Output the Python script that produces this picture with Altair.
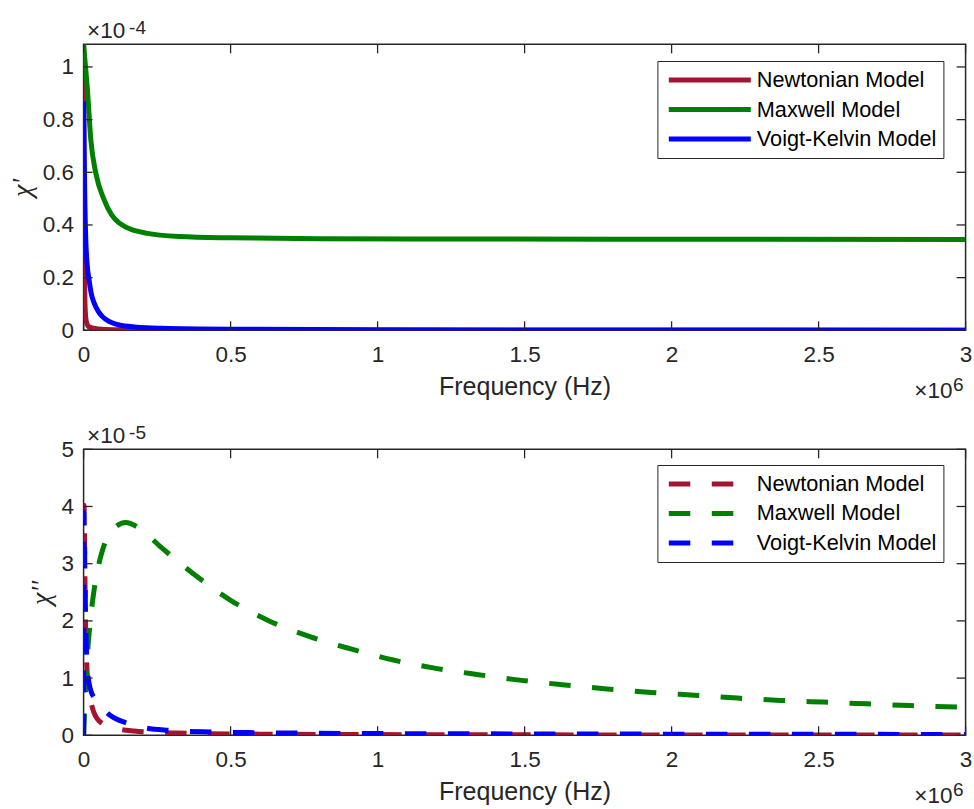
import altair as alt
import pandas as pd

# ---------------- data ----------------
SERIES = ["Newtonian Model", "Maxwell Model", "Voigt-Kelvin Model"]
COLORS = ["#A2142F", "#008000", "#0000FF"]

# chi' (units of 1e-4)
newton_re_f = [0, 1000, 2000, 3000, 4500, 6500, 10000, 20000, 50000, 100000, 300000, 3000000]
newton_re_v = [1.086, 0.77, 0.40, 0.23, 0.11, 0.06, 0.03, 0.012, 0.005, 0.002, 0.0005, 0.0]

maxwell_re_f = [0, 5000, 13000, 24500, 41500, 70000, 121000, 212000, 325000, 500000, 800000, 1200000, 2000000, 3000000]
maxwell_re_v = [1.086, 1.02, 0.914, 0.724, 0.597, 0.495, 0.407, 0.369, 0.356, 0.351, 0.348, 0.347, 0.346, 0.345]

voigt_re_f = [0, 2000, 4500, 7500, 12000, 18700, 26000, 36000, 50000, 64000, 90000, 120000, 180000, 268000, 500000, 1000000, 2000000, 3000000]
voigt_re_v = [0.869, 0.66, 0.47, 0.343, 0.25, 0.191, 0.14, 0.103, 0.072, 0.052, 0.032, 0.02, 0.012, 0.0076, 0.004, 0.002, 0.001, 0.0006]

# chi'' (units of 1e-5)
newton_im_f = [0, 1500, 4000, 7000, 11000, 18000, 30000, 53000, 100000, 172000, 318000, 600000, 1200000, 2000000, 3000000]
newton_im_v = [0, 4.02, 3.0, 1.8, 1.2, 0.8, 0.48, 0.25, 0.13, 0.075, 0.04, 0.02, 0.01, 0.006, 0.004]

maxwell_im_f = [0, 5000, 13000, 20000, 36000, 50000, 64000, 100000, 143000, 190000, 263000, 382000, 500000, 631000,
                767000, 909000, 1050000, 1198000, 1343000, 1490000, 1637000, 1780000, 1930000, 2077000, 2224000,
                2370000, 2516000, 2664000, 2810000, 3000000]
maxwell_im_v = [0, 0.6, 1.4, 1.85, 2.55, 2.95, 3.23, 3.6, 3.72, 3.62, 3.29, 2.79, 2.36, 2.0,
                1.73, 1.51, 1.32, 1.17, 1.06, 0.96, 0.88, 0.81, 0.75, 0.70, 0.65,
                0.61, 0.58, 0.55, 0.52, 0.49]

voigt_im_f = [0, 1000, 4000, 7000, 11000, 16000, 24500, 37000, 53000, 90000, 143000, 210000, 290000, 437000,
              600000, 1000000, 1500000, 2000000, 3000000]
voigt_im_v = [0, 3.9, 3.0, 2.0, 1.3, 1.0, 0.78, 0.65, 0.54, 0.35, 0.22, 0.13, 0.088, 0.058,
              0.045, 0.03, 0.024, 0.02, 0.015]

X_TICKS = [0, 500000, 1000000, 1500000, 2000000, 2500000, 3000000]
Y1_TICKS = [0, 0.2, 0.4, 0.6, 0.8, 1.0]
Y2_TICKS = [0, 1, 2, 3, 4, 5]
Y1_MAX = 1.086
Y2_MAX = 5.0

X_TITLE = "Frequency (Hz)"
Y1_TITLE = "χ'"
Y2_TITLE = "χ''"
EXP_BASE = "×10"
Y1_EXP = "-4"
Y2_EXP = "-5"
X_EXP = "6"

# ---------------- layout ----------------
W, H = 882, 286
TICK = 9
AX = "#262626"
FONT = "Liberation Sans"
LEGEND_LINE = "M-4.1,0H4.1"   # 82 px long line with symbolSize 400


def frame(parts):
    rows = []
    for name, fs, vs in parts:
        for f, v in zip(fs, vs):
            rows.append({"model": name, "f": f, "v": v})
    return pd.DataFrame(rows)


def panel(df, ymax, yticks, ytitle, yexp, dash, legend_y):
    xs = alt.Scale(domain=[0, 3000000], nice=False, zero=False)
    ys = alt.Scale(domain=[0, ymax], nice=False, zero=False)
    mark_kw = dict(strokeWidth=5, interpolate="monotone", clip=True)
    leg_kw = {}
    if dash:
        mark_kw["strokeDash"] = dash
        leg_kw["symbolDash"] = dash
    lines = alt.Chart(df).mark_line(**mark_kw).encode(
        x=alt.X("f:Q", scale=xs, title=X_TITLE,
                axis=alt.Axis(values=X_TICKS, labelExpr="format(datum.value/1000000, '~g')",
                              labelPadding=13, titlePadding=9, labelFlush=False)),
        y=alt.Y("v:Q", scale=ys, title=ytitle,
                axis=alt.Axis(values=yticks, format="~g", labelPadding=10, titlePadding=6,
                              titleFont="Liberation Serif", titleFontSize=28, titleFontStyle="italic")),
        color=alt.Color("model:N", scale=alt.Scale(domain=SERIES, range=COLORS),
                        legend=alt.Legend(orient="none", legendX=573.8, legendY=legend_y, title=None,
                                          symbolType=LEGEND_LINE, symbolSize=400, symbolStrokeWidth=5,
                                          symbolOffset=33.4, labelOffset=34.5,
                                          labelFont=FONT, labelFontSize=21.7, labelColor="black",
                                          labelLimit=400, padding=6.5, rowPadding=4.5,
                                          strokeColor=AX, fillColor="white", **leg_kw)),
        detail="model:N",
    )
    xt = pd.DataFrame({"f": X_TICKS})
    yt = pd.DataFrame({"v": yticks})
    rule = dict(color=AX, strokeWidth=1.3)
    bx = alt.Chart(xt).mark_rule(**rule).encode(
        x=alt.X("f:Q", scale=xs), y=alt.value(H), y2=alt.value(H - TICK))
    tx = alt.Chart(xt).mark_rule(**rule).encode(
        x=alt.X("f:Q", scale=xs), y=alt.value(0), y2=alt.value(TICK))
    ly = alt.Chart(yt).mark_rule(**rule).encode(
        y=alt.Y("v:Q", scale=ys), x=alt.value(0), x2=alt.value(TICK))
    ry = alt.Chart(yt).mark_rule(**rule).encode(
        y=alt.Y("v:Q", scale=ys), x=alt.value(W), x2=alt.value(W - TICK))

    lab = pd.DataFrame({"base": [EXP_BASE], "yexp": [yexp], "xexp": [X_EXP]})
    t_kw = dict(font=FONT, color=AX, baseline="alphabetic")
    e1 = alt.Chart(lab).mark_text(align="left", fontSize=22.5, **t_kw).encode(
        text="base:N", x=alt.value(3.5), y=alt.value(-6))
    e2 = alt.Chart(lab).mark_text(align="left", fontSize=19, **t_kw).encode(
        text="yexp:N", x=alt.value(45.5), y=alt.value(-10))
    e3 = alt.Chart(lab).mark_text(align="right", fontSize=22.5, **t_kw).encode(
        text="base:N", x=alt.value(868.8), y=alt.value(H + 67.5))
    e4 = alt.Chart(lab).mark_text(align="left", fontSize=19, **t_kw).encode(
        text="xexp:N", x=alt.value(869.5), y=alt.value(H + 61))
    return alt.layer(lines, bx, tx, ly, ry, e1, e2, e3, e4).properties(width=W, height=H)


top_df = frame([(SERIES[0], newton_re_f, newton_re_v),
                (SERIES[1], maxwell_re_f, maxwell_re_v),
                (SERIES[2], voigt_re_f, voigt_re_v)])
bot_df = frame([(SERIES[0], newton_im_f, newton_im_v),
                (SERIES[1], maxwell_im_f, maxwell_im_v),
                (SERIES[2], voigt_im_f, voigt_im_v)])

top = panel(top_df, Y1_MAX, Y1_TICKS, Y1_TITLE, Y1_EXP, None, 16.7)
bottom = panel(bot_df, Y2_MAX, Y2_TICKS, Y2_TITLE, Y2_EXP, [21.5, 21.5], 15.7)

chart = alt.vconcat(top, bottom, spacing=119, bounds="flush").resolve_scale(
    color="independent").resolve_legend(color="independent").properties(
    padding={"left": 6.6, "top": 18.3, "right": 0, "bottom": 0},
    background="white",
).configure_view(stroke=AX, strokeWidth=1.5).configure_axis(
    labelFont=FONT, labelFontSize=22.5, labelColor=AX, titleFont=FONT, titleFontSize=25,
    titleColor=AX, titleFontWeight="normal", grid=False, ticks=False, domain=False,
)

chart.save("out.html", embed_options={"renderer": "svg", "actions": False})
